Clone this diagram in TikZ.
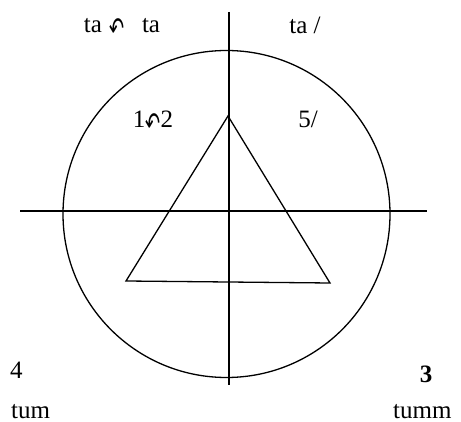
\documentclass[tikz,border=0pt]{standalone}
\usepackage{fontspec}
\usepackage{graphicx}
\setmainfont{Liberation Serif}
\newfontfamily\symfont{DejaVu Sans}
\newcommand{\ccw}{\raisebox{-7pt}{\scalebox{0.75}[1.3]{\symfont\fontsize{24}{24}\selectfont ↶}}}
\begin{document}
\begin{tikzpicture}[x=1pt,y=-1pt,
  lbl/.style={font=\fontsize{25}{27}\selectfont, inner sep=0pt},
  ln/.style={line width=1.3pt}]
\useasboundingbox (0,0) rectangle (461,422);
\coordinate (C) at (226.5,214);
\draw[ln] (C) circle (163.5);
\coordinate (hl) at (20,211);
\coordinate (hr) at (427,211);
\coordinate (vt) at (229,12);
\coordinate (vb) at (229,385);
\draw[ln] (hl) -- (hr);
\draw[ln] (vt) -- (vb);
\coordinate (A) at (228,116);
\coordinate (B) at (126,281);
\coordinate (D) at (330,283);
\draw[ln] (A) -- (B) -- (D) -- cycle;
\node[lbl, anchor=base] (t1) at (122,33) {ta\hspace{8pt}\ccw\hspace{17pt}ta};
\node[lbl, anchor=base] (t2) at (305,34) {ta /};
\node[lbl, anchor=base] (t3) at (153,128) {1\ccw2};
\node[lbl, anchor=base] (t4) at (308,128) {5/};
\node[lbl, anchor=base west] (t5) at (10,378) {4};
\node[lbl, anchor=base west] (t6) at (11,418) {tum};
\node[lbl, anchor=base] (t7) at (426,382) {\textbf{3}};
\node[lbl, anchor=base west] (t8) at (393,418) {tumm};
\end{tikzpicture}
\end{document}
